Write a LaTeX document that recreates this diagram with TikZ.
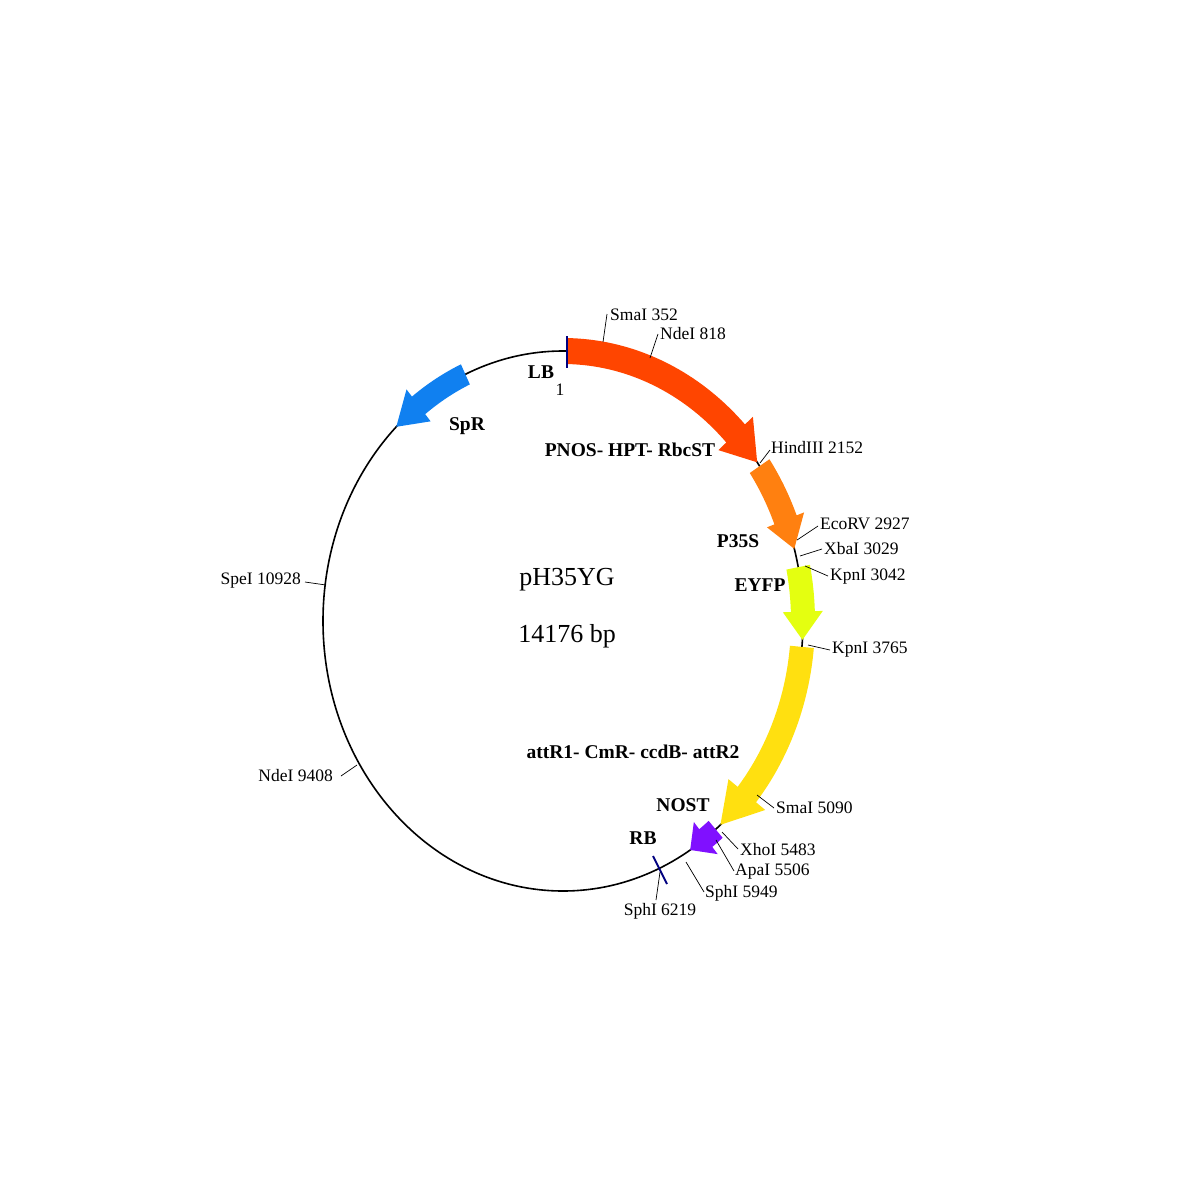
\documentclass[tikz,border=0pt]{standalone}
\usepackage{fontspec}
\setmainfont{Liberation Serif}
\begin{document}
\begin{tikzpicture}[x=1pt,y=-1pt,
  site/.style={font=\fontsize{17.5}{17.5}\selectfont,inner sep=1pt},
  feat/.style={font=\bfseries\fontsize{19.5}{19.5}\selectfont,inner sep=1pt},
  lead/.style={line width=0.7pt}]
\useasboundingbox (0,0) rectangle (1200,1200);
\definecolor{cred}{HTML}{FF4500}
\definecolor{corange}{HTML}{FF8010}
\definecolor{cyg}{HTML}{E4FF10}
\definecolor{cyel}{HTML}{FFE010}
\definecolor{cpur}{HTML}{8010FF}
\definecolor{cblue}{HTML}{1080F0}
\def\cx{563}\def\cy{621}\def\rx{240}\def\ry{270}
\newcommand\garrow[6]{% color, start, headbase, tip, halfwidth, headhalfwidth
 \fill[#1] plot[domain=#2:#3,samples=40] ({\cx+(\rx+#5)*cos(\x)},{\cy-(\ry+#5)*sin(\x)})
  -- ({\cx+(\rx+#6)*cos(#3)},{\cy-(\ry+#6)*sin(#3)})
  -- ({\cx+\rx*cos(#4)},{\cy-\ry*sin(#4)})
  -- ({\cx+(\rx-#6)*cos(#3)},{\cy-(\ry-#6)*sin(#3)})
  -- plot[domain=#3:#2,samples=40] ({\cx+(\rx-#5)*cos(\x)},{\cy-(\ry-#5)*sin(\x)}) -- cycle;}
\draw[line width=1.6pt] (\cx,\cy) ellipse [x radius=\rx, y radius=\ry];
\garrow{cred}{89}{44}{36}{13}{24}
\garrow{corange}{35}{22}{15.5}{12}{20}
\garrow{cyg}{11.5}{2}{-4}{12}{20}
\garrow{cyel}{-5.5}{-40}{-49}{12}{24}
\garrow{cpur}{-50.5}{-53.5}{-58}{11}{20}
\garrow{cblue}{114}{127}{134}{11}{20}
% LB / RB ticks
\coordinate (lbt) at (567,336); \coordinate (lbb) at (567,368);
\draw[blue!50!black,line width=2pt] (lbt) -- (lbb);
\coordinate (rbt) at (653,856); \coordinate (rbb) at (667,884);
\draw[blue!50!black,line width=2pt] (rbt) -- (rbb);
% sites
\newcommand\site[5]{\coordinate (a) at (#1); \coordinate (b) at (#2);
 \draw[lead] (a) -- (b); \node[site,anchor=#3] at (#4) {#5};}
\site{603,342}{607,314}{west}{609,315}{SmaI 352}
\site{650,358}{658,334}{west}{659,334}{NdeI 818}
\site{760,463}{770,450}{west}{770,448}{HindIII 2152}
\site{797,540}{818,526}{west}{819,524}{EcoRV 2927}
\site{800,556}{822,549}{west}{823,549}{XbaI 3029}
\site{805,566}{828,576}{west}{829,577}{KpnI 3042}
\site{808,645}{830,650}{west}{831,650}{KpnI 3765}
\site{757,795}{774,808}{west}{775,808}{SmaI 5090}
\site{722,832}{738,849}{west}{739,850}{XhoI 5483}
\site{716,840}{734,871}{west}{734,872}{ApaI 5506}
\site{686,862}{704,892}{west}{704,893}{SphI 5949}
\site{660,872}{656,900}{north}{660,902}{SphI 6219}
\site{305,582}{326,585}{east}{302,581}{SpeI 10928}
\site{341,776}{357,765}{east}{334,776}{NdeI 9408}
\node[site] at (560,390) {1};
\node[feat] (lb) at (541,372) {LB};
\node[feat] (rb) at (643,838) {RB};
\node[feat] (spr) at (467,426) {SpR};
\node[feat] (pnos) at (630,450) {PNOS- HPT- RbcST};
\node[feat] (p35) at (738,541) {P35S};
\node[feat] (eyfp) at (760,585) {EYFP};
\node[feat] (attr) at (633,752) {attR1- CmR- ccdB- attR2};
\node[feat] (nost) at (683,805) {NOST};
\node[font=\fontsize{26}{26}\selectfont] (nm) at (567,580) {pH35YG};
\node[font=\fontsize{26}{26}\selectfont] (bp) at (567,636) {14176 bp};
\end{tikzpicture}
\end{document}
